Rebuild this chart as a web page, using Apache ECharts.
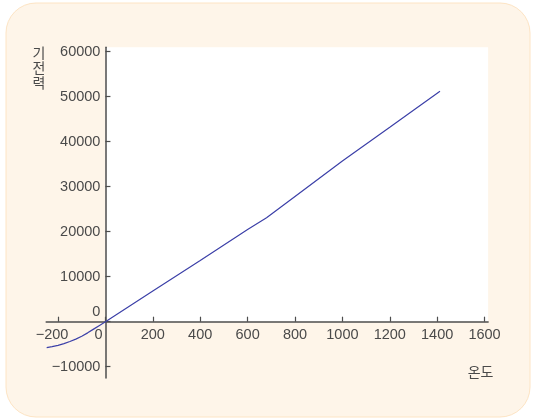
<!DOCTYPE html>
<html>
<head>
<meta charset="utf-8">
<script src="https://cdn.jsdelivr.net/npm/echarts@6/dist/echarts.min.js"></script>
<style>
  html, body { margin: 0; padding: 0; background: #fff; }
  #chart { width: 535px; height: 420px; }
</style>
</head>
<body>
<div id="chart"></div>
<script>
// 온도 (°C) / 기전력 (μV)
const temps = [-248, -225, -200, -175, -150, -125, -100, -75, -50, -25, 0, 200, 400, 600, 680, 800, 1000, 1200, 1300, 1412];
const emf = [-5750, -5550, -5250, -4870, -4400, -3870, -3250, -2480, -1650, -830, 0, 6800, 13600, 20500, 23100, 27800, 35700, 43200, 47000, 51200];

// tick labels
const xTicks = [-200, 0, 200, 400, 600, 800, 1000, 1200, 1400, 1600];
const yTicks = [-10000, 0, 10000, 20000, 30000, 40000, 50000, 60000];

// axis ranges
const xRange = [-250, 1615];
const yRange = [-12500, 61000];

const W = 535;
const H = 420;
const grid = { left: 46.2, right: 46.9, top: 47.2, bottom: 42.05 };
const gridW = W - grid.left - grid.right;
const gridH = H - grid.top - grid.bottom;
// axes cross at 0, so move them in from the grid edges
const xAxisShift = (gridH * (0 - yRange[0])) / (yRange[1] - yRange[0]);
const yAxisShift = (gridW * (0 - xRange[0])) / (xRange[1] - xRange[0]);

const textColor = '#4a4a4a';
const axisColor = '#4d4d4d';
const font = '"Liberation Sans", "Noto Sans CJK KR", sans-serif';

const fmt = (v) => (v < 0 ? '\u2212' + Math.abs(v) : String(v));

const chart = echarts.init(document.getElementById('chart'));

chart.setOption({
  animation: false,
  backgroundColor: '#ffffff',
  graphic: [
    {
      type: 'rect',
      z: -10,
      shape: { x: 6, y: 3, width: 524, height: 414, r: 30 },
      style: { fill: '#fef5e9', stroke: '#fde4c4', lineWidth: 1 },
    },
  ],
  grid: {
    ...grid,
    containLabel: false,
    outerBoundsMode: 'none',
  },
  xAxis: {
    type: 'value',
    position: 'bottom',
    offset: -xAxisShift,
    min: xRange[0],
    max: xRange[1],
    z: 5,
    name: '온도',
    nameLocation: 'end',
    nameGap: 0,
    nameMoveOverlap: false,
    nameTextStyle: {
      color: textColor,
      fontFamily: font,
      fontSize: 14,
      align: 'center',
      verticalAlign: 'top',
      padding: [44, 15, 0, 0],
    },
    axisLine: { onZero: false, lineStyle: { color: axisColor, width: 1.5 } },
    axisTick: {
      inside: true,
      length: 5,
      customValues: xTicks,
      lineStyle: { color: axisColor, width: 1.2 },
    },
    axisLabel: {
      customValues: xTicks,
      margin: 6,
      hideOverlap: false,
      color: textColor,
      fontFamily: font,
      fontSize: 14.5,
      formatter: (v) => {
        if (v === 0) return '{z|0}';
        if (v < 0) return '{n|' + fmt(v) + '}';
        return fmt(v);
      },
      rich: {
        z: { color: textColor, fontFamily: font, fontSize: 14.5, padding: [0, 14, 0, 0] },
        n: { color: textColor, fontFamily: font, fontSize: 14.5, padding: [0, 12, 0, 0] },
      },
    },
    splitLine: { show: false },
  },
  yAxis: {
    type: 'value',
    position: 'left',
    offset: -yAxisShift,
    min: yRange[0],
    max: yRange[1],
    z: 5,
    name: '기\n전\n력',
    nameLocation: 'end',
    nameGap: 1,
    nameMoveOverlap: false,
    nameTextStyle: {
      color: textColor,
      fontFamily: font,
      fontSize: 14,
      lineHeight: 15,
      align: 'right',
      verticalAlign: 'top',
      padding: [0, 60, 0, 0],
    },
    axisLine: { onZero: false, lineStyle: { color: axisColor, width: 1.5 } },
    axisTick: {
      inside: true,
      length: 5,
      customValues: yTicks,
      lineStyle: { color: axisColor, width: 1.2 },
    },
    axisLabel: {
      customValues: yTicks,
      margin: 5,
      hideOverlap: false,
      color: textColor,
      fontFamily: font,
      fontSize: 14.5,
      formatter: (v) => (v === 0 ? '{z|0}' : fmt(v)),
      rich: {
        z: { color: textColor, fontFamily: font, fontSize: 14.5, padding: [0, 0, 19, 0] },
      },
    },
    splitLine: { show: false },
  },
  series: [
    {
      type: 'line',
      z: 6,
      data: temps.map((t, i) => [t, emf[i]]),
      symbol: 'none',
      lineStyle: { color: '#3c40a8', width: 1.2 },
      markArea: {
        silent: true,
        itemStyle: { color: '#ffffff' },
        data: [[{ xAxis: 0, yAxis: 0 }, { xAxis: xRange[1], yAxis: yRange[1] }]],
      },
    },
  ],
});
</script>
</body>
</html>
